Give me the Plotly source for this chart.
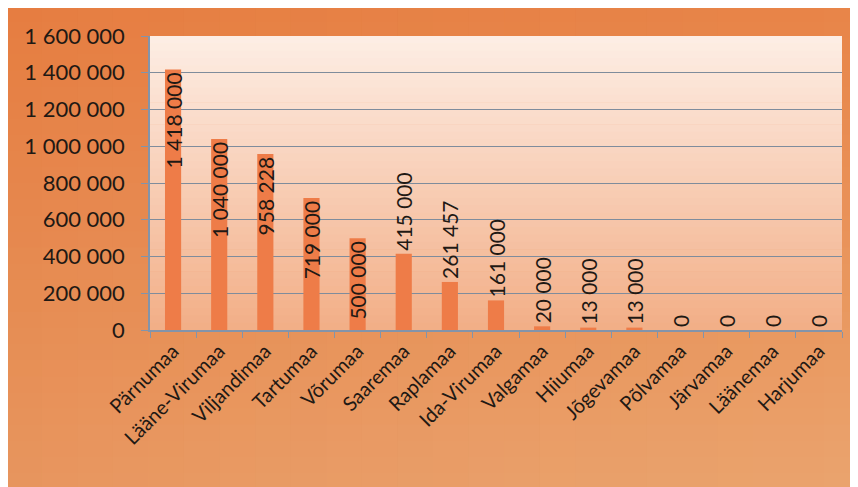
import plotly.graph_objects as go

categories = ["Pärnumaa", "Lääne-Virumaa", "Viljandimaa", "Tartumaa", "Võrumaa",
              "Saaremaa", "Raplamaa", "Ida-Virumaa", "Valgamaa", "Hiiumaa",
              "Jõgevamaa", "Põlvamaa", "Järvamaa", "Läänemaa", "Harjumaa"]
values = [1418000, 1040000, 958228, 719000, 500000,
          415000, 261457, 161000, 20000, 13000,
          13000, 0, 0, 0, 0]
y_ticks = [0, 200000, 400000, 600000, 800000, 1000000, 1200000, 1400000, 1600000]

Y_MAX = 1600000
FONT = "Lato"
TXT = "#1f1914"

positions = ["inside" if v > 0.28 * Y_MAX else "outside" for v in values]

fig = go.Figure()
fig.add_trace(go.Bar(
    x=categories, y=values,
    marker=dict(color="#EE7C48", line=dict(width=0)),
    text=values,
    texttemplate="%{y:,d}",
    textposition=positions,
    insidetextanchor="end",
    textangle=-90,
    constraintext="none",
    cliponaxis=False,
    insidetextfont=dict(family=FONT, size=21, color=TXT),
    outsidetextfont=dict(family=FONT, size=21, color=TXT),
    hoverinfo="skip",
))

# page body adds an 8px offset; figure is sized to fill the rest of the window
W, H = 850, 479
L, R, T, B = 142, 16, 28, 157
pw, ph = W - L - R, H - T - B

def px2x(px):
    return (px - L) / pw

def py2y(py):
    return (H - B - py) / ph

def lerp(c1, c2, t):
    return tuple(round(a + (b - a) * t) for a, b in zip(c1, c2))

shapes = []
# outer orange frame with vertical gradient
outer_top = (232, 132, 72)
outer_bot = (234, 164, 110)
n = 30
for i in range(n):
    a = -2 + (H + 4) * i / n
    b = -2 + (H + 4) * (i + 1) / n + 1
    c = lerp(outer_top, outer_bot, (i + 0.5) / n)
    shapes.append(dict(type="rect", xref="paper", yref="paper", layer="below",
                       x0=px2x(-2), x1=px2x(W + 2), y0=py2y(b), y1=py2y(a),
                       fillcolor="rgb(%d,%d,%d)" % c, line=dict(width=0)))
# soft horizontal shading: more saturated on the left
k = 24
for i in range(k):
    xa = -2 + (W + 4) * i / k
    xb = -2 + (W + 4) * (i + 1) / k
    alpha = 0.22 * (1 - (i + 0.5) / k) ** 1.5
    shapes.append(dict(type="rect", xref="paper", yref="paper", layer="below",
                       x0=px2x(xa), x1=px2x(xb), y0=py2y(H + 2), y1=py2y(-2),
                       fillcolor="rgba(224,100,40,%.3f)" % alpha, line=dict(width=0)))
# gray edges of the frame
shapes.append(dict(type="line", xref="paper", yref="paper", layer="below",
                   x0=px2x(-1), x1=px2x(W + 2), y0=py2y(-1), y1=py2y(-1),
                   line=dict(color="#b9b4b0", width=1.5)))
shapes.append(dict(type="line", xref="paper", yref="paper", layer="below",
                   x0=px2x(-2), x1=px2x(-2), y0=py2y(-1), y1=py2y(H + 2),
                   line=dict(color="#9d9894", width=2)))

# plot area gradient
stops = [(0.0, (253, 238, 229)), (0.5, (248, 206, 182)), (1.0, (242, 174, 134))]
def grad(t):
    for (t0, c0), (t1, c1) in zip(stops[:-1], stops[1:]):
        if t <= t1:
            return lerp(c0, c1, (t - t0) / (t1 - t0))
    return stops[-1][1]

m = 40
for i in range(m):
    a = i / m
    b = (i + 1) / m + 0.002
    c = grad((i + 0.5) / m)
    shapes.append(dict(type="rect", xref="paper", yref="paper", layer="below",
                       x0=0, x1=1, y0=max(0, 1 - b), y1=1 - a,
                       fillcolor="rgb(%d,%d,%d)" % c, line=dict(width=0)))

fig.update_layout(
    width=W, height=H,
    margin=dict(l=L, r=R, t=T, b=B),
    paper_bgcolor="white",
    plot_bgcolor="rgba(0,0,0,0)",
    separators=", ",
    bargap=0.65,
    showlegend=False,
    shapes=shapes,
    font=dict(family=FONT, color=TXT),
    xaxis=dict(
        type="category",
        tickangle=-45,
        tickfont=dict(family=FONT, size=20, color=TXT),
        showline=True, linecolor="#8394aa", linewidth=1.5,
        ticks="outside", ticklen=6, tickcolor="#8394aa", tickson="boundaries",
        showgrid=False,
    ),
    yaxis=dict(
        range=[0, Y_MAX],
        tickvals=y_ticks,
        tickformat=",d",
        tickfont=dict(family=FONT, size=22, color=TXT),
        showline=True, linecolor="#8394aa", linewidth=1.5,
        ticks="outside", ticklen=7, tickcolor="#8394aa",
        ticklabelstandoff=12,
        showgrid=True, gridcolor="#7f8c9c", gridwidth=1,
        zeroline=False,
    ),
)

fig.write_html("out.html")
